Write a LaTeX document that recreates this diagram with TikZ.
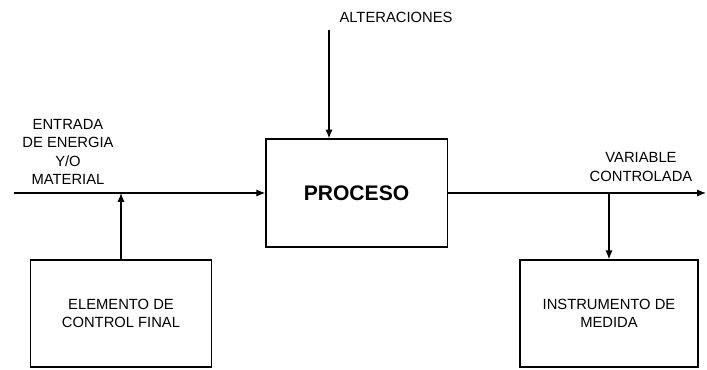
\documentclass[tikz,border=0pt]{standalone}
\usepackage{fontspec}
\setmainfont{Liberation Sans}
\usepackage{tikz}
\usetikzlibrary{arrows.meta,positioning}
\tikzset{
  blk/.style    = {draw, line width=0.9pt, minimum width=4.53cm,
                   minimum height=2.68cm, align=center,
                   font=\fontsize{10.5}{12.5}\selectfont},
  procB/.style  = {draw, line width=0.9pt, minimum width=4.53cm,
                   minimum height=2.7cm, align=center,
                   font=\fontsize{15}{18}\selectfont\bfseries},
  lbl/.style    = {align=center, font=\fontsize{10.5}{13}\selectfont},
  arr/.style    = {-{Latex[length=2.2mm,width=1.8mm]}, line width=0.9pt}
}
\begin{document}
\begin{tikzpicture}[x=0.025cm,y=-0.025cm]
\useasboundingbox (0,0) rectangle (707,369);
\node[procB] (proceso) at (356.5,193) {PROCESO};
\node[blk]   (elemento) at (121,313.5) {ELEMENTO DE\\CONTROL FINAL};
\node[blk, minimum width=4.45cm] (instrumento) at (609,313.5)
      {INSTRUMENTO DE\\MEDIDA};
\node[lbl]   (alter)   at (396,17)  {ALTERACIONES};
\node[lbl]   (entrada) at (68,152)  {ENTRADA\\DE ENERGIA\\Y/O\\MATERIAL};
\node[lbl]   (variable) at (641,167) {VARIABLE\\CONTROLADA};
\coordinate (inicio) at (14,193);
\coordinate (fin)    at (706,193);
\coordinate (altsrc) at (329,30);
\draw[arr] (inicio)   -- (proceso.west);
\draw[arr] (elemento.north) -- (elemento.north |- inicio);
\draw[arr] (altsrc)   -- (altsrc |- proceso.north);
\draw[arr] (proceso.east) -- (fin);
\draw[arr] (instrumento.north |- fin) -- (instrumento.north);
\end{tikzpicture}
\end{document}
